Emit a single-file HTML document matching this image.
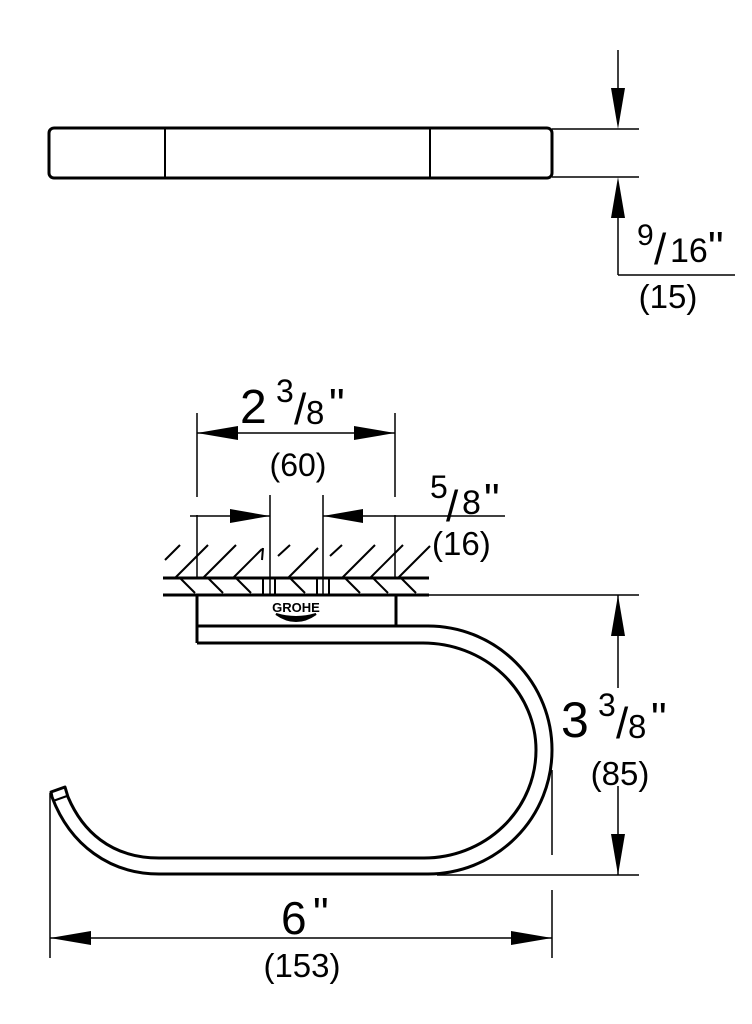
<!DOCTYPE html>
<html><head><style>html,body{margin:0;padding:0;background:#fff}svg{display:block}</style></head>
<body>
<svg width="752" height="1024" viewBox="0 0 752 1024" xmlns="http://www.w3.org/2000/svg" font-family="Liberation Sans, sans-serif" fill="none" stroke="#000">
<!-- top bar -->
<rect x="49" y="128" width="503" height="50" rx="5" stroke-width="3"/>
<line x1="165" y1="128" x2="165" y2="178" stroke-width="2"/>
<line x1="430" y1="128" x2="430" y2="178" stroke-width="2"/>
<line x1="552" y1="129" x2="639" y2="129" stroke-width="1.5"/>
<line x1="552" y1="177" x2="639" y2="177" stroke-width="1.5"/>
<line x1="618" y1="50" x2="618" y2="110" stroke-width="1.5"/>
<polygon points="611,88 625,88 618,129" fill="#000" stroke="none"/>
<line x1="618" y1="200" x2="618" y2="275" stroke-width="1.5"/>
<polygon points="611,218 625,218 618,177" fill="#000" stroke="none"/>
<line x1="618" y1="275" x2="735" y2="275" stroke-width="1.5"/>
<g fill="#000" stroke="none">
<text x="637" y="245" font-size="30">9</text>
<text x="654" y="264" font-size="44">/</text>
<text x="670" y="262" font-size="34">16</text>
<text x="708" y="262" font-size="44">"</text>
<text x="668" y="308" font-size="33" text-anchor="middle">(15)</text>
</g>

<!-- 2 3/8 dim -->
<line x1="197" y1="413" x2="197" y2="497" stroke-width="1.5"/>
<line x1="395" y1="413" x2="395" y2="497" stroke-width="1.5"/>
<line x1="197" y1="433" x2="395" y2="433" stroke-width="1.5"/>
<polygon points="197,433 238,426 238,440" fill="#000" stroke="none"/>
<polygon points="395,433 354,426 354,440" fill="#000" stroke="none"/>
<g fill="#000" stroke="none">
<text x="240" y="423" font-size="48">2</text>
<text x="276" y="402" font-size="32">3</text>
<text x="294" y="424" font-size="44">/</text>
<text x="306" y="424" font-size="33">8</text>
<text x="329" y="419" font-size="44">"</text>
<text x="298" y="476" font-size="32" text-anchor="middle">(60)</text>
<text x="430" y="498" font-size="32">5</text>
<text x="446" y="521" font-size="44">/</text>
<text x="462" y="514" font-size="34">8</text>
<text x="484" y="514" font-size="44">"</text>
<text x="432" y="555" font-size="33">(16)</text>
</g>
<!-- 5/8 dim -->
<line x1="270" y1="495" x2="270" y2="595" stroke-width="1.5"/>
<line x1="323" y1="495" x2="323" y2="595" stroke-width="1.5"/>
<line x1="190" y1="516" x2="270" y2="516" stroke-width="1.5"/>
<line x1="323" y1="516" x2="505" y2="516" stroke-width="1.5"/>
<polygon points="270,516 230,509 230,523" fill="#000" stroke="none"/>
<polygon points="323,516 363,509 363,523" fill="#000" stroke="none"/>
<line x1="197" y1="515" x2="197" y2="578" stroke-width="1.5"/>
<line x1="395" y1="515" x2="395" y2="578" stroke-width="1.5"/>
<!-- wall -->
<line x1="163" y1="578" x2="429" y2="578" stroke-width="3"/>
<line x1="163" y1="595" x2="429" y2="595" stroke-width="3"/>
<g stroke-width="2">
<line x1="165" y1="560" x2="180" y2="545"/>
<line x1="175" y1="578" x2="208" y2="545"/>
<line x1="203" y1="578" x2="236" y2="545"/>
<line x1="233" y1="578" x2="262" y2="549"/>
<line x1="262" y1="560" x2="263" y2="548"/>
<line x1="278" y1="556" x2="290" y2="545"/>
<line x1="288" y1="578" x2="318" y2="548"/>
<line x1="330" y1="556" x2="342" y2="545"/>
<line x1="342" y1="578" x2="375" y2="545"/>
<line x1="370" y1="578" x2="403" y2="545"/>
<line x1="398" y1="578" x2="430" y2="546"/>
<line x1="180" y1="578" x2="195" y2="593"/>
<line x1="208" y1="578" x2="223" y2="593"/>
<line x1="236" y1="578" x2="251" y2="593"/>
<line x1="290" y1="578" x2="305" y2="593"/>
<line x1="345" y1="578" x2="360" y2="593"/>
<line x1="373" y1="578" x2="388" y2="593"/>
<line x1="401" y1="578" x2="416" y2="593"/>
<line x1="263" y1="578" x2="263" y2="595"/><line x1="275" y1="578" x2="275" y2="595"/>
<line x1="317" y1="578" x2="317" y2="595"/><line x1="329" y1="578" x2="329" y2="595"/>
</g>
<!-- plate + logo -->
<line x1="197" y1="595" x2="197" y2="643" stroke-width="3"/>
<line x1="396" y1="595" x2="396" y2="626" stroke-width="3"/>
<text x="296" y="612" font-size="13" font-weight="bold" text-anchor="middle" fill="#000" stroke="none">GROHE</text>
<path d="M276 614 Q296 628 316 614 Q296 620 276 614Z" fill="#000" stroke="#000" stroke-width="2"/>
<!-- holder -->
<path d="M197 643 L423 643 A113 107 0 0 1 536 750 A112 108 0 0 1 424 858 L159 858 C110 858 82 830 68 797 L65 787 L51 792 L52 797 C70 845 110 874 159 874 L428 874 A124 124 0 0 0 552 750 A124 124 0 0 0 428 626 L197 626" stroke-width="3" stroke-linejoin="round"/>
<line x1="53" y1="801" x2="67" y2="796" stroke-width="2"/>
<!-- 3 3/8 dim -->
<line x1="400" y1="595" x2="639" y2="595" stroke-width="1.5"/>
<line x1="437" y1="875" x2="639" y2="875" stroke-width="1.5"/>
<line x1="618" y1="595" x2="618" y2="688" stroke-width="1.5"/>
<line x1="618" y1="786" x2="618" y2="875" stroke-width="1.5"/>
<polygon points="611,636 625,636 618,595" fill="#000" stroke="none"/>
<polygon points="611,834 625,834 618,875" fill="#000" stroke="none"/>
<line x1="552" y1="770" x2="552" y2="855" stroke-width="1.5"/>
<g fill="#000" stroke="none">
<text x="561" y="737" font-size="50">3</text>
<text x="598" y="716" font-size="32">3</text>
<text x="616" y="738" font-size="44">/</text>
<text x="628" y="738" font-size="33">8</text>
<text x="651" y="733" font-size="44">"</text>
<text x="620" y="785" font-size="33" text-anchor="middle">(85)</text>
</g>
<!-- 6 dim -->
<line x1="50" y1="793" x2="50" y2="958" stroke-width="1.5"/>
<line x1="552" y1="890" x2="552" y2="958" stroke-width="1.5"/>
<line x1="50" y1="938" x2="552" y2="938" stroke-width="1.5"/>
<polygon points="50,938 91,931 91,945" fill="#000" stroke="none"/>
<polygon points="552,938 511,931 511,945" fill="#000" stroke="none"/>
<g fill="#000" stroke="none">
<text x="281" y="934" font-size="46">6</text>
<text x="313" y="928" font-size="44">"</text>
<text x="302" y="977" font-size="33" text-anchor="middle">(153)</text>
</g>
</svg>
</body></html>
